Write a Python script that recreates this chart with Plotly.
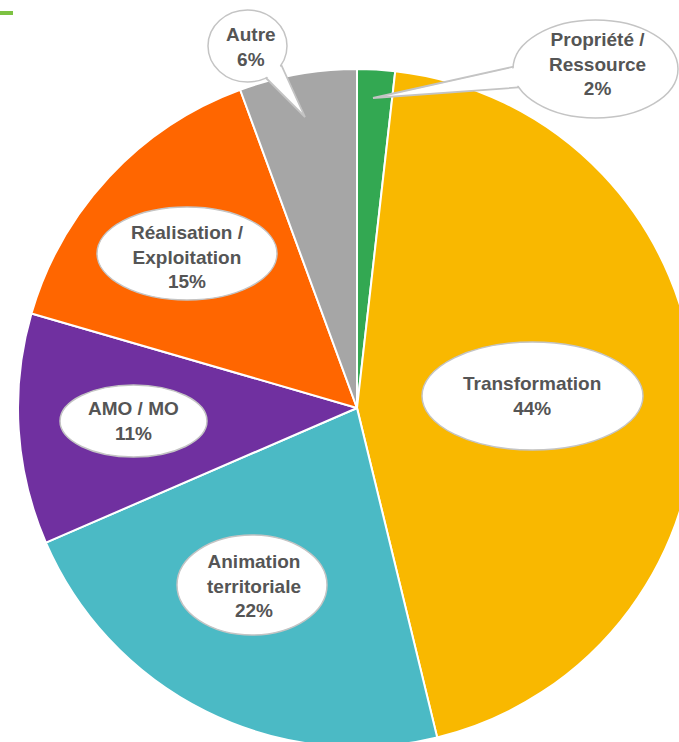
import plotly.graph_objects as go
import math

# ---- data ----
categories = ["Propriété / Ressource", "Transformation", "Animation territoriale",
              "AMO / MO", "Réalisation / Exploitation", "Autre"]
values = [1.8, 44.4, 22.3, 11.0, 14.9, 5.6]
label_texts = ["Propriété /<br>Ressource<br>2%", "Transformation<br>44%",
               "Animation<br>territoriale<br>22%", "AMO / MO<br>11%",
               "Réalisation /<br>Exploitation<br>15%", "Autre<br>6%"]
colors = ["#33A852", "#F9B800", "#4BBAC5", "#7030A0", "#FF6600", "#A6A6A6"]

# ---- layout geometry (pixels) ----
W, H = 700, 750
def px(x):
    return x / W
def py(y):
    return 1 - y / H

# label ellipse boxes (x0, x1, y0, y1) and text centres, in pixels
ellipses = [(513, 678, 20, 118), (422, 643, 342, 450), (177, 327, 535, 635),
            (60, 207, 385, 457), (97, 277, 207, 300), (208, 287, 10, 82)]
text_pos = [(597, 64), (532, 396), (254, 586), (133, 421), (187, 257), (251, 47)]
# speech-bubble tails: (base1, tip, base2)
tails = {0: ((530, 63), (373, 98), (538, 86)),
         5: ((259.5, 71.5), (305, 117), (279, 60))}

fig = go.Figure(go.Pie(
    labels=categories, values=values, sort=False, direction="clockwise",
    rotation=0, marker=dict(colors=colors, line=dict(color="white", width=2)),
    textinfo="none", hoverinfo="label+percent", showlegend=False,
    domain=dict(x=[px(18), px(696)], y=[py(747), py(69)]),
))

BORDER = "#C4C4C4"

def path_from(pts):
    s = "M " + " L ".join(f"{px(x):.5f},{py(y):.5f}" for x, y in pts) + " Z"
    return s

def inset_triangle(tri, d):
    (ax, ay), (bx, by), (cx, cy) = tri
    a = math.dist((bx, by), (cx, cy))
    b = math.dist((ax, ay), (cx, cy))
    c = math.dist((ax, ay), (bx, by))
    p = a + b + c
    ix = (a * ax + b * bx + c * cx) / p
    iy = (a * ay + b * by + c * cy) / p
    s = p / 2
    area = math.sqrt(max(s * (s - a) * (s - b) * (s - c), 1e-9))
    r = area / s
    k = max((r - d) / r, 0.05)
    return [(ix + (x - ix) * k, iy + (y - iy) * k) for x, y in tri]

shapes = []
annotations = []
for i, (x0, x1, y0, y1) in enumerate(ellipses):
    if i in tails:
        tri = tails[i]
        shapes.append(dict(type="path", xref="paper", yref="paper", path=path_from(tri),
                           fillcolor="white", line=dict(color=BORDER, width=1.8), layer="above"))
    shapes.append(dict(type="circle", xref="paper", yref="paper",
                       x0=px(x0), x1=px(x1), y0=py(y1), y1=py(y0),
                       fillcolor="white", line=dict(color=BORDER, width=1.5), layer="above"))
    if i in tails:
        cover = inset_triangle(tails[i], 1.6)
        shapes.append(dict(type="path", xref="paper", yref="paper", path=path_from(cover),
                           fillcolor="white", line=dict(width=0), layer="above"))
    tx, ty = text_pos[i]
    annotations.append(dict(x=px(tx), y=py(ty), xref="paper", yref="paper",
                            text="<b>" + label_texts[i] + "</b>", showarrow=False,
                            xanchor="center", yanchor="middle", align="center",
                            font=dict(family="Arial, Liberation Sans, sans-serif",
                                      size=19, color="#555555")))

# small green accent line at top-left corner
shapes.append(dict(type="line", xref="paper", yref="paper", x0=0, x1=px(13),
                   y0=py(13), y1=py(13), line=dict(color="#7DC242", width=4)))

fig.update_layout(width=W, height=H, margin=dict(l=0, r=0, t=0, b=0),
                  paper_bgcolor="white", plot_bgcolor="white",
                  shapes=shapes, annotations=annotations)

fig.write_html("out.html")
